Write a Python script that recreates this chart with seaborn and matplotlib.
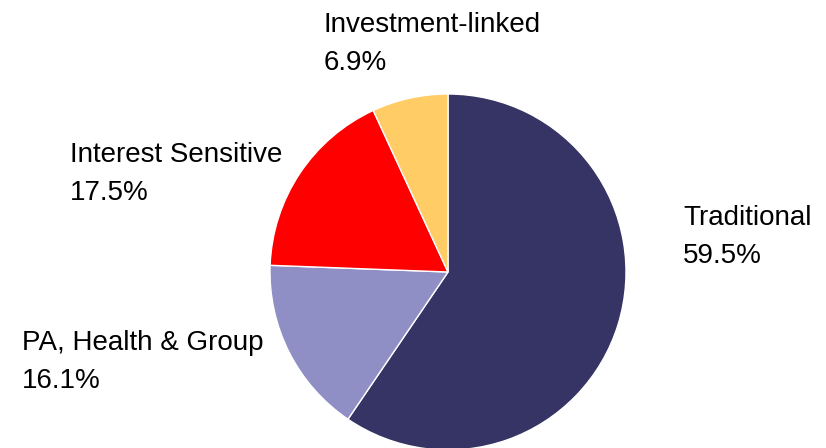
import matplotlib
matplotlib.use("Agg")
import matplotlib.pyplot as plt
import seaborn as sns

# product mix, share of total (%)
categories = ["Traditional", "PA, Health & Group", "Interest Sensitive", "Investment-linked"]
shares = [59.5, 16.1, 17.5, 6.9]
colors = ["#353464", "#8f8fc6", "#ff0000", "#ffcc66"]

# label anchor (left, top) in pixels from the top-left corner
label_pos = {
    "Traditional": (683, 205),
    "PA, Health & Group": (22, 330),
    "Interest Sensitive": (70, 142),
    "Investment-linked": (324, 12),
}

sns.set_theme(style="white")
plt.rcParams["font.family"] = ["Liberation Sans", "DejaVu Sans"]

W, H = 826, 448
fig = plt.figure(figsize=(W / 100, H / 100), dpi=100)
fig.patch.set_facecolor("white")

# pie centre (448, 272) px, radius 178 px
cx, cy, r = 448, 272, 178
ax = fig.add_axes([(cx - r) / W, (H - cy - r) / H, 2 * r / W, 2 * r / H])
ax.pie(shares, colors=colors, startangle=90, counterclock=False,
       wedgeprops=dict(edgecolor="white", linewidth=1))
ax.set_xlim(-1, 1)
ax.set_ylim(-1, 1)
ax.set_aspect("equal")
ax.axis("off")

for cat, val in zip(categories, shares):
    x, y = label_pos[cat]
    fig.text(x / W, 1 - y / H, f"{cat}\n{val:.1f}%", ha="left", va="top",
             fontsize=20, color="black", linespacing=1.58)

fig.savefig("out.png", dpi=100)
